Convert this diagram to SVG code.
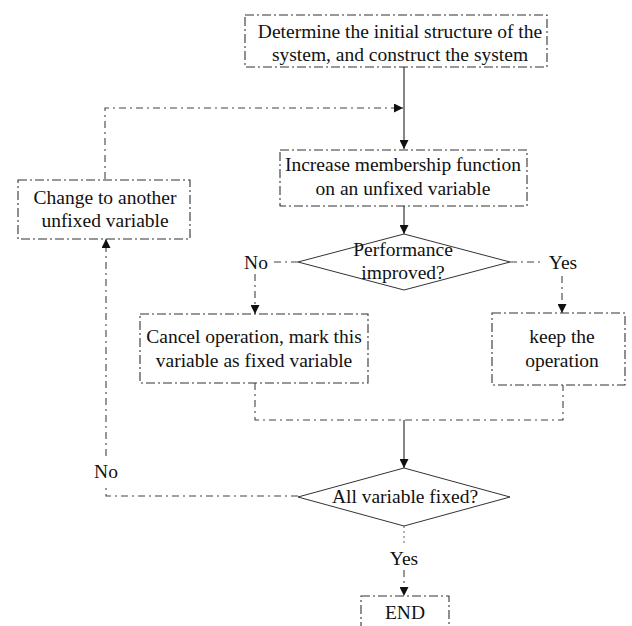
<svg xmlns="http://www.w3.org/2000/svg" width="632" height="626" viewBox="0 0 632 626">
<defs>
<marker id="arr" viewBox="0 0 10 10" refX="10" refY="5" markerWidth="9" markerHeight="9" markerUnits="userSpaceOnUse" orient="auto">
<path d="M0,0 L10,5 L0,10 z" fill="#111"/>
</marker>
</defs>
<style>
.box{fill:none;stroke:#333;stroke-width:1.1;stroke-dasharray:9 3 2 3}
.dia{fill:none;stroke:#333;stroke-width:1}
.solid{fill:none;stroke:#222;stroke-width:1.1}
.dash{fill:none;stroke:#444;stroke-width:1.1;stroke-dasharray:7 4 2 4}
.dot{fill:none;stroke:#666;stroke-width:1;stroke-dasharray:2 3}
text{font-family:"Liberation Serif","Times New Roman",serif;font-size:19.5px;fill:#111;text-anchor:middle}
</style>
<rect width="632" height="626" fill="#fff"/>
<g id="connectors">
<line class="solid" x1="404" y1="67" x2="404" y2="149" marker-end="url(#arr)"/>
<path class="dash" d="M105,179 V108 H403" marker-end="url(#arr)"/>
<line class="solid" x1="404" y1="206" x2="404" y2="234" marker-end="url(#arr)"/>
<line class="dash" x1="298" y1="262" x2="270" y2="262"/>
<line class="dash" x1="255" y1="274" x2="255" y2="314" marker-end="url(#arr)"/>
<line class="dash" x1="510" y1="262" x2="544" y2="262"/>
<line class="dash" x1="562" y1="276" x2="562" y2="313" marker-end="url(#arr)"/>
<path class="dash" d="M255,383 V420 H563 V385"/>
<line class="solid" x1="404" y1="420" x2="404" y2="468" marker-end="url(#arr)"/>
<path class="dash" d="M298,496 H106 V486"/>
<line class="dash" x1="106" y1="456" x2="106" y2="239" marker-end="url(#arr)"/>
<line class="dot" x1="404" y1="526" x2="404" y2="544"/>
<line class="dash" x1="404" y1="570" x2="404" y2="596" marker-end="url(#arr)"/>
<text x="256" y="269">No</text>
<text x="563" y="269">Yes</text>
<text x="106" y="478">No</text>
<text x="404" y="565">Yes</text>
</g>
<g id="start">
<rect class="box" x="245" y="15" width="302" height="52"/>
<text x="400" y="38">Determine the initial structure of the</text>
<text x="400" y="61">system, and construct the system</text>
</g>
<g id="increase">
<rect class="box" x="280" y="150" width="247" height="56"/>
<text x="403" y="171">Increase membership function</text>
<text x="403" y="195">on an unfixed variable</text>
</g>
<g id="change">
<rect class="box" x="18" y="180" width="172" height="59"/>
<text x="105" y="204">Change to another</text>
<text x="105" y="227">unfixed variable</text>
</g>
<g id="perf">
<polygon class="dia" points="404,234 510,262 404,290 298,262"/>
<text x="403" y="256">Performance</text>
<text x="403" y="279">improved?</text>
</g>
<g id="cancel">
<rect class="box" x="140" y="314" width="228" height="69"/>
<text x="254" y="343">Cancel operation, mark this</text>
<text x="254" y="367">variable as fixed variable</text>
</g>
<g id="keep">
<rect class="box" x="492" y="313" width="133" height="72"/>
<text x="562" y="343">keep the</text>
<text x="562" y="367">operation</text>
</g>
<g id="allfixed">
<polygon class="dia" points="404,468 510,497 404,526 298,497"/>
<text x="405" y="503">All variable fixed?</text>
</g>
<g id="end">
<rect class="box" x="361" y="596" width="88" height="40"/>
<text x="405" y="619">END</text>
</g>
</svg>
